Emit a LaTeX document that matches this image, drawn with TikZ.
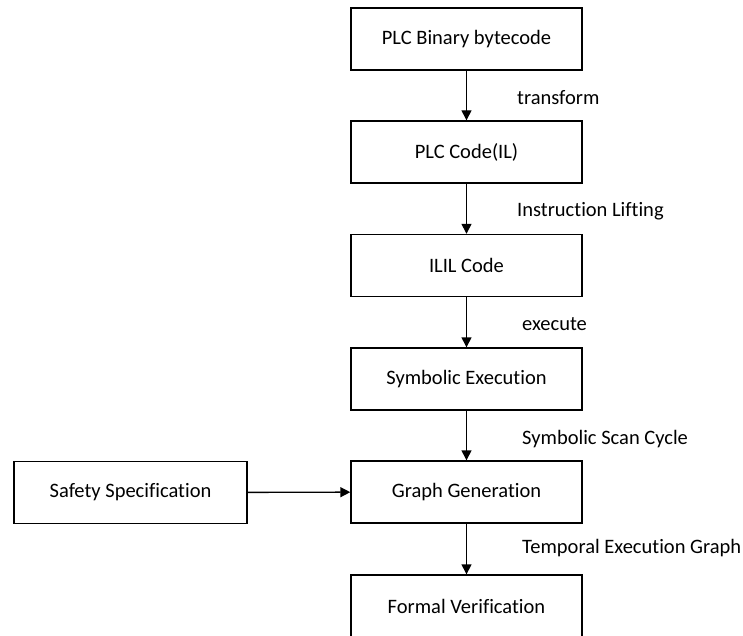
\documentclass[tikz,border=0pt]{standalone}
\usepackage{fontspec}
\setmainfont[Ligatures=NoCommon]{Carlito}
\usetikzlibrary{arrows.meta}
\begin{document}
\begin{tikzpicture}[x=1pt,y=-1pt,
  box/.style={draw,line width=1.4pt,minimum width=231pt,minimum height=62pt,inner sep=0pt,font=\fontsize{20.5}{24}\selectfont},
  sidebox/.style={box,minimum width=233pt},
  lbl/.style={anchor=west,font=\fontsize{20.5}{24}\selectfont,inner sep=0pt},
  arr/.style={line width=1.4pt,-{Triangle[length=10pt,width=10pt]}}]
\useasboundingbox (0,0) rectangle (743,636);
\clip (0,0) rectangle (743,636);
\node[box] (b1) at (466.5,39) {PLC Binary bytecode};
\node[box] (b2) at (466.5,152) {PLC Code(IL)};
\node[box] (b3) at (466.5,265.5) {ILIL Code};
\node[box] (b4) at (466.5,379) {Symbolic Execution};
\node[box] (b5) at (466.5,492) {Graph Generation};
\node[box] (b6) at (466.5,606) {Formal Verification};
\node[sidebox] (s) at (130.5,492.5) {Safety Specification};
\draw[arr] (b1) -- (b2);
\draw[arr] (b2) -- (b3);
\draw[arr] (b3) -- (b4);
\draw[arr] (b4) -- (b5);
\draw[arr] (b5) -- (b6);
\draw[arr] (s) -- (b5);
\node[lbl] (l1) at (517,98) {transform};
\node[lbl] (l2) at (517,211) {Instruction Lifting};
\node[lbl] (l3) at (522,324) {execute};
\node[lbl] (l4) at (522,439) {Symbolic Scan Cycle};
\node[lbl] (l5) at (522,548) {Temporal Execution Graph};
\end{tikzpicture}
\end{document}
